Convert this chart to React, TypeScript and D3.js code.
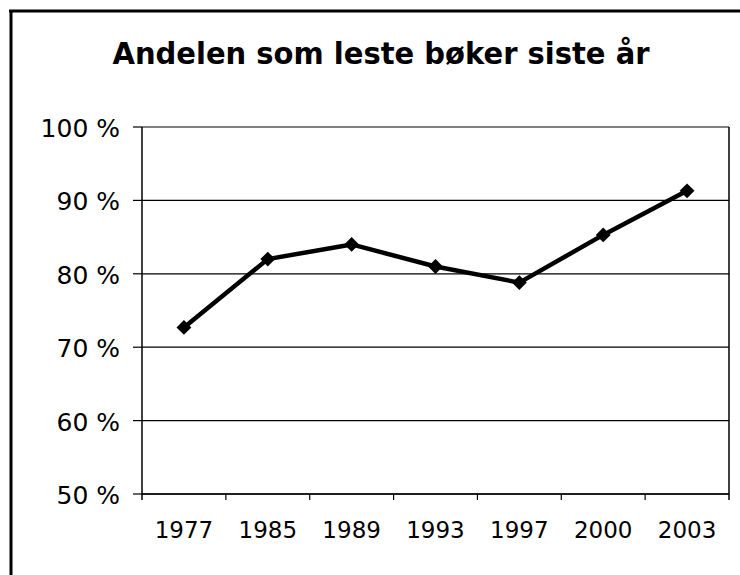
import * as d3 from "d3"

const years = ["1977", "1985", "1989", "1993", "1997", "2000", "2003"]
const shares = [72.7, 82, 84, 81, 78.8, 85.3, 91.3]
const yTicks = [50, 60, 70, 80, 90, 100]
const title = "Andelen som leste bøker siste år"

const W = 740
const H = 575
const plot = { left: 142, right: 729, top: 127, bottom: 494 }

const App = () => {
  const x = d3.scaleBand<string>()
    .domain(years)
    .range([plot.left, plot.right])

  const y = d3.scaleLinear()
    .domain([50, 100])
    .range([plot.bottom, plot.top])

  const line = d3.line<number>()
    .x((_, i) => (x(years[i]) ?? 0) + x.bandwidth() / 2)
    .y(d => y(d))

  const diamond = d3.symbol().type(d3.symbolSquare).size(110)()

  // category boundaries for the x tick marks
  const bounds = years.map(yr => x(yr) ?? 0).slice(1)

  return (
    <svg width={W} height={H} style={{ position: "absolute", left: 0, top: 0, background: "#fff" }}>
      {/* outer frame (only top and left visible) */}
      <line x1={9} x2={W} y1={11} y2={11} stroke="#000" strokeWidth={3} />
      <line x1={11} x2={11} y1={10} y2={H} stroke="#000" strokeWidth={3} />

      <text x={381} y={64} textAnchor="middle" fontFamily="DejaVu Sans, Verdana, sans-serif"
        fontWeight="bold" fontSize={30} textLength={537} lengthAdjust="spacingAndGlyphs">{title}</text>

      {/* gridlines + y ticks */}
      {yTicks.map(t => (
        <g key={t}>
          <line x1={plot.left} x2={plot.right} y1={y(t)} y2={y(t)} stroke="#000" strokeWidth={1.2} />
          <line x1={133} x2={plot.left} y1={y(t)} y2={y(t)} stroke="#000" strokeWidth={1.2} />
          <text x={120} y={y(t) + 10} textAnchor="end" fontFamily="DejaVu Sans, Verdana, sans-serif"
            fontSize={25} fill="#000">{`${t} %`}</text>
        </g>
      ))}

      {/* plot area box */}
      <line x1={plot.left} x2={plot.left} y1={plot.top} y2={plot.bottom + 6} stroke="#000" strokeWidth={1.5} />
      <line x1={plot.right} x2={plot.right} y1={plot.top} y2={plot.bottom + 6} stroke="#000" strokeWidth={1.5} />
      <line x1={plot.left} x2={plot.right} y1={plot.bottom} y2={plot.bottom} stroke="#000" strokeWidth={1.5} />

      {bounds.map((b, i) => (
        <line key={i} x1={b} x2={b} y1={plot.bottom} y2={plot.bottom + 6} stroke="#000" strokeWidth={1.2} />
      ))}

      {years.map(yr => (
        <text key={yr} x={(x(yr) ?? 0) + x.bandwidth() / 2} y={538} textAnchor="middle"
          fontFamily="DejaVu Sans, Verdana, sans-serif" fontSize={23} fill="#000">{yr}</text>
      ))}

      <path d={line(shares) ?? ""} fill="none" stroke="#000" strokeWidth={4.5} strokeLinejoin="round" />

      {shares.map((v, i) => (
        <path key={i} d={diamond ?? ""} fill="#000"
          transform={`translate(${(x(years[i]) ?? 0) + x.bandwidth() / 2},${y(v)}) rotate(45)`} />
      ))}
    </svg>
  )
}

export default App
